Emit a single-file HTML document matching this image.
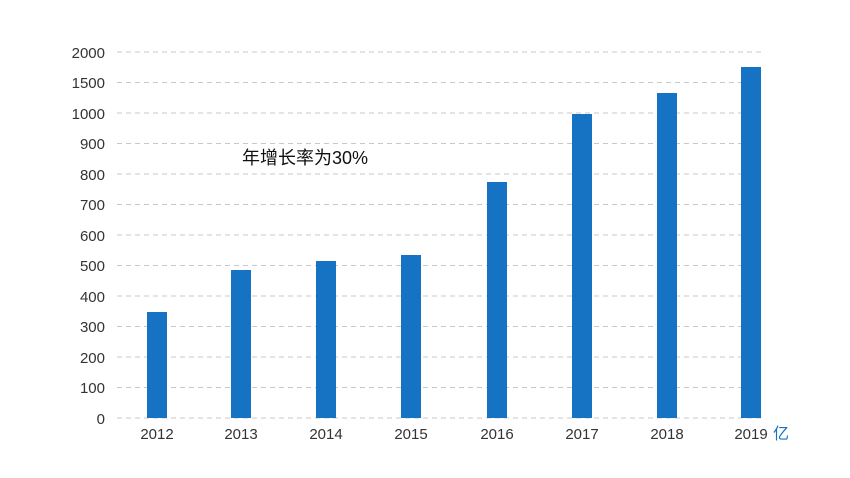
<!DOCTYPE html>
<html><head><meta charset="utf-8"><style>body{margin:0;background:#fff}svg{display:block}</style></head>
<body>
<svg width="850" height="478" xmlns="http://www.w3.org/2000/svg" font-family="'Liberation Sans','Noto Sans CJK SC',sans-serif">
<g stroke="#c8c8c8" stroke-dasharray="5,4" stroke-width="1">
<line x1="117" x2="762" y1="52" y2="52"/><line x1="117" x2="762" y1="82.5" y2="82.5"/>
<line x1="117" x2="762" y1="113" y2="113"/><line x1="117" x2="762" y1="143.5" y2="143.5"/>
<line x1="117" x2="762" y1="174" y2="174"/><line x1="117" x2="762" y1="204.5" y2="204.5"/>
<line x1="117" x2="762" y1="235" y2="235"/><line x1="117" x2="762" y1="265.5" y2="265.5"/>
<line x1="117" x2="762" y1="296" y2="296"/><line x1="117" x2="762" y1="326.5" y2="326.5"/>
<line x1="117" x2="762" y1="357" y2="357"/><line x1="117" x2="762" y1="387.5" y2="387.5"/>
<line x1="117" x2="762" y1="418" y2="418"/>
</g>
<g fill="#333" font-size="15" text-anchor="end">
<text x="105" y="58">2000</text><text x="105" y="88">1500</text><text x="105" y="119">1000</text>
<text x="105" y="149">900</text><text x="105" y="180">800</text><text x="105" y="210">700</text>
<text x="105" y="241">600</text><text x="105" y="271">500</text><text x="105" y="302">400</text>
<text x="105" y="332">300</text><text x="105" y="363">200</text><text x="105" y="393">100</text>
<text x="105" y="424">0</text>
</g>
<g fill="#1673c4">
<rect x="147" y="312" width="20" height="106"/>
<rect x="231" y="270" width="20" height="148"/>
<rect x="316" y="261" width="20" height="157"/>
<rect x="401" y="255" width="20" height="163"/>
<rect x="487" y="182" width="20" height="236"/>
<rect x="572" y="114" width="20" height="304"/>
<rect x="657" y="93" width="20" height="325"/>
<rect x="741" y="67" width="20" height="351"/>
</g>
<g fill="#333" font-size="15" text-anchor="middle">
<text x="157" y="439">2012</text><text x="241" y="439">2013</text><text x="326" y="439">2014</text>
<text x="411" y="439">2015</text><text x="497" y="439">2016</text><text x="582" y="439">2017</text>
<text x="667" y="439">2018</text><text x="751" y="439">2019</text>
</g>
<text x="773" y="439" fill="#1673c4" font-size="16">亿</text>
<text x="242" y="164" fill="#111" font-size="18">年增长率为30%</text>
</svg>
</body></html>
